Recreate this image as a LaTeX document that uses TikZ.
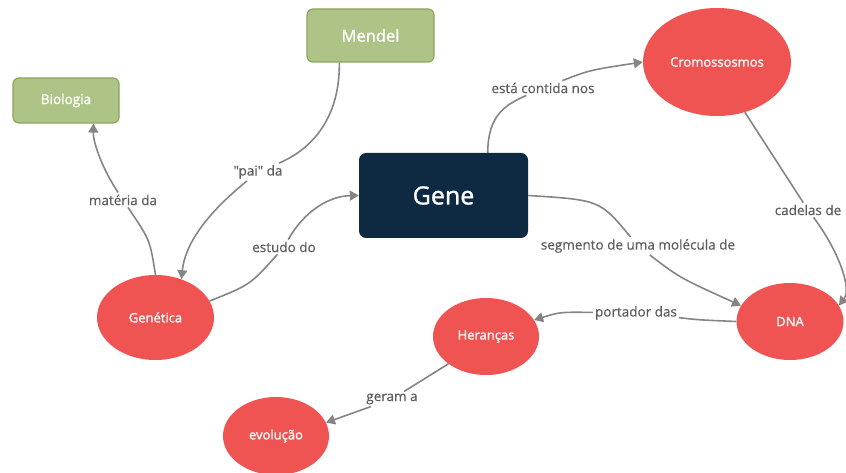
\documentclass[tikz,border=0pt]{standalone}
\usepackage{fontspec}
\setmainfont{Open Sans}
\newfontfamily\nodefont{Open Sans}[FakeBold=1.2]
\newfontfamily\labelfont{Open Sans}[FakeBold=0.5]
\usetikzlibrary{arrows.meta,shapes.geometric}
\definecolor{leaf}{HTML}{AEC486}
\definecolor{leafedge}{HTML}{8CA55E}
\definecolor{navy}{HTML}{0D2A42}
\definecolor{coral}{HTML}{EF5352}
\definecolor{linkgrey}{HTML}{858585}
\definecolor{labelgrey}{HTML}{5E5E5E}
\tikzset{
  topic/.style={draw=leafedge, line width=1.2pt, fill=leaf, rounded corners=6pt,
    text=white, font=\nodefont\fontsize{13.5}{16}\selectfont},
  core/.style={fill=navy, rounded corners=7pt, text=white,
    minimum width=169pt, minimum height=85pt, font=\nodefont\fontsize{25}{30}\selectfont},
  concept/.style={ellipse, fill=coral, text=white, inner sep=0pt,
    font=\nodefont\fontsize{13}{16}\selectfont},
  linklabel/.style={text=labelgrey, inner sep=2pt, font=\labelfont\fontsize{13.5}{16}\selectfont},
  link/.style={draw=linkgrey, line width=1.6pt},
  arrowlink/.style={link, -{Triangle[length=9pt,width=10pt]}},
}
\begin{document}
\begin{tikzpicture}[x=1pt, y=-1pt]
\useasboundingbox (0,0) rectangle (846,473);

% concepts
\node[topic, minimum width=106pt, minimum height=45pt] (bio) at (66,100.5) {Biologia};
\node[topic, minimum width=127pt, minimum height=53pt, font=\nodefont\fontsize{16.5}{20}\selectfont] (men) at (370.5,35.5) {Mendel};
\node[core] (gene) at (443.5,195.5) {Gene};
\node[concept, minimum width=148pt, minimum height=108pt] (cro) at (717,62) {Cromossosmos};
\node[concept, minimum width=117pt, minimum height=85pt] (gen) at (155.5,317.5) {Genética};
\node[concept, minimum width=107pt, minimum height=77pt] (dna) at (790,321.5) {DNA};
\node[concept, minimum width=106pt, minimum height=77pt] (her) at (486,336.5) {Heranças};
\node[concept, minimum width=106pt, minimum height=78pt] (evo) at (276,436) {evolução};

% link labels
\node[linklabel] (l1) at (123,200) {matéria da};
\node[linklabel] (l2) at (258,172) {\char34 pai\char34{} da};
\node[linklabel] (l3) at (284,247) {estudo do};
\node[linklabel] (l4) at (543,88) {está contida nos};
\node[linklabel] (l5) at (638,246) {segmento de uma molécula de};
\node[linklabel] (l6) at (808,210) {cadelas de};
\node[linklabel] (l7) at (636,313) {portador das};
\node[linklabel] (l8) at (392,399) {geram a};

% links
\draw[link] (gen.north) .. controls (150,240) .. (l1);
\draw[arrowlink] (l1) .. controls (100,165) and (93,140) .. (bio.-40);

\draw[link] (men.-139) .. controls (340,120) and (310,150) .. (l2);
\draw[arrowlink] (l2) .. controls (205,215) and (185,245) .. (gen.56);

\draw[link] (gen.17) .. controls (250,285) .. (l3);
\draw[arrowlink] (l3) .. controls (305,210) and (330,196) .. (gene.west);

\draw[link] (gene.44) .. controls (488,115) and (505,105) .. (l4);
\draw[arrowlink] (l4) .. controls (590,70) .. (cro.west);

\draw[link] (gene.east) .. controls (600,200) .. (l5);
\draw[arrowlink] (l5) .. controls (680,278) .. (dna.162);

\draw[link] (cro.-61) -- (l6);
\draw[arrowlink] (l6) .. controls (838,250) and (852,288) .. (dna.18);

\draw[link] (dna.west) .. controls (700,320) .. (l7);
\draw[arrowlink] (l7) .. controls (560,312) .. (her.19);

\draw[link] (her.216) -- (l8);
\draw[arrowlink] (l8) -- (evo.15);
\end{tikzpicture}
\end{document}
